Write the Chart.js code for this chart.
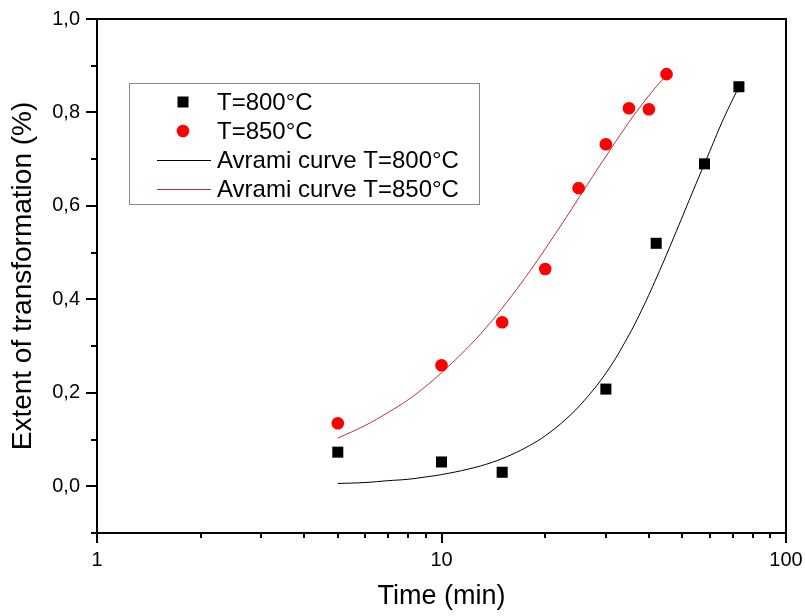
<!DOCTYPE html>
<html>
<head>
<meta charset="utf-8">
<script src="https://cdn.jsdelivr.net/npm/chart.js@4/dist/chart.umd.min.js"></script>
<style>
html,body{margin:0;padding:0;background:#fff;}
#wrap{width:805px;height:616px;}
</style>
</head>
<body>
<div id="wrap"><canvas id="c" width="805" height="616"></canvas></div>
<script>
// ---- data ----
const t800 = [5, 10, 15, 30, 42, 58, 73];
const x800 = [0.073, 0.052, 0.030, 0.208, 0.520, 0.690, 0.855];
const t850 = [5, 10, 15, 20, 25, 30, 35, 40, 45];
const x850 = [0.135, 0.259, 0.351, 0.465, 0.638, 0.732, 0.809, 0.807, 0.882];

const fitT800 = [5, 6, 7, 8, 9, 10, 12, 14, 16, 18, 20, 23, 26, 30, 34, 38, 43, 48, 54, 60, 66, 73];
const fitX800 = [0.006, 0.008, 0.012, 0.015, 0.020, 0.025, 0.037, 0.051, 0.068, 0.087, 0.108, 0.144, 0.184, 0.242, 0.307, 0.375, 0.462, 0.545, 0.636, 0.716, 0.788, 0.855];
const fitT850 = [5, 6, 7, 8, 9, 10, 12, 14, 16, 18, 20, 23, 26, 30, 34, 38, 42, 45];
const fitX850 = [0.103, 0.130, 0.158, 0.185, 0.214, 0.243, 0.299, 0.354, 0.408, 0.459, 0.508, 0.575, 0.636, 0.706, 0.766, 0.815, 0.855, 0.880];

const seriesLabels = ['T=800°C', 'T=850°C', 'Avrami curve T=800°C', 'Avrami curve T=850°C'];
const xTitle = 'Time (min)';
const yTitle = 'Extent of transformation (%)';
const xMajor = [1, 10, 100];
const xMinor = [2, 3, 4, 5, 6, 7, 8, 9, 20, 30, 40, 50, 60, 70, 80, 90];
const yMajor = [0, 0.2, 0.4, 0.6, 0.8, 1.0];
const yMinor = [-0.1, 0.1, 0.3, 0.5, 0.7, 0.9];

const pts = (xs, ys) => xs.map((x, i) => ({x: x, y: ys[i]}));
const FONT = "'Liberation Sans', Arial, sans-serif";
const noPad = s => { s.paddingTop = 0; s.paddingBottom = 0; s.paddingLeft = 0; s.paddingRight = 0; };

const frameTicks = {
  id: 'frameTicks',
  afterDraw(chart) {
    const {ctx, chartArea: a, scales} = chart;
    const xs = scales.x, ys = scales.y;
    ctx.save();
    ctx.strokeStyle = '#000';
    ctx.lineWidth = 2;
    ctx.strokeRect(a.left, a.top, a.right - a.left, a.bottom - a.top);
    ctx.beginPath();
    yMajor.forEach(v => { const p = Math.round(ys.getPixelForValue(v)); ctx.moveTo(a.left - 11, p); ctx.lineTo(a.left, p); });
    yMinor.forEach(v => { const p = Math.round(ys.getPixelForValue(v)); ctx.moveTo(a.left - 6, p); ctx.lineTo(a.left, p); });
    xMajor.forEach(v => { const p = Math.round(xs.getPixelForValue(v)); ctx.moveTo(p, a.bottom); ctx.lineTo(p, a.bottom + 10); });
    xMinor.forEach(v => { const p = Math.round(xs.getPixelForValue(v)); ctx.moveTo(p, a.bottom); ctx.lineTo(p, a.bottom + 5); });
    ctx.stroke();

    // legend box
    const L = 129, T = 83, R = 479, B = 204;
    ctx.fillStyle = '#fff';
    ctx.fillRect(L, T, R - L, B - T);
    ctx.strokeStyle = '#8a8a8a';
    ctx.lineWidth = 1;
    ctx.strokeRect(L + 0.5, T + 0.5, R - L, B - T);
    const rows = [102, 131, 160, 189];
    const ds = chart.data.datasets;
    ctx.font = '24px ' + FONT;
    ctx.textBaseline = 'middle';
    ctx.textAlign = 'left';
    rows.forEach((y, i) => {
      const d = ds[i];
      if (i === 0) {
        ctx.fillStyle = d.backgroundColor;
        ctx.fillRect(183 - 5.5, y - 5.5, 11, 11);
      } else if (i === 1) {
        ctx.fillStyle = d.backgroundColor;
        ctx.beginPath(); ctx.arc(183, y, 6.3, 0, Math.PI * 2); ctx.fill();
      } else {
        ctx.strokeStyle = d.borderColor;
        ctx.lineWidth = 1;
        ctx.beginPath(); ctx.moveTo(157, y + 0.5); ctx.lineTo(211, y + 0.5); ctx.stroke();
      }
      ctx.fillStyle = '#000';
      ctx.fillText(d.label, 217, y + 1);
    });
    ctx.restore();
  }
};

new Chart(document.getElementById('c'), {
  type: 'scatter',
  data: {
    datasets: [
      {label: seriesLabels[0], data: pts(t800, x800), pointStyle: 'rect', pointRadius: 7.8, pointHoverRadius: 7.8,
       backgroundColor: '#000', borderColor: '#000', borderWidth: 0, order: 0},
      {label: seriesLabels[1], data: pts(t850, x850), pointStyle: 'circle', pointRadius: 6.3, pointHoverRadius: 6.3,
       backgroundColor: '#ff0000', borderColor: '#ff0000', borderWidth: 0, order: 0},
      {label: seriesLabels[2], data: pts(fitT800, fitX800), showLine: true, pointRadius: 0, borderColor: '#000',
       borderWidth: 1, tension: 0.4, fill: false, order: 1},
      {label: seriesLabels[3], data: pts(fitT850, fitX850), showLine: true, pointRadius: 0, borderColor: '#b83232',
       borderWidth: 1, tension: 0.4, fill: false, order: 1}
    ]
  },
  options: {
    responsive: false,
    animation: false,
    events: [],
    layout: {padding: {top: 19, right: 19, left: 0, bottom: 0}},
    plugins: {legend: {display: false}, tooltip: {enabled: false}},
    scales: {
      x: {
        type: 'logarithmic', min: 1, max: 100,
        afterBuildTicks: s => { s.ticks = xMajor.map(v => ({value: v})); },
        afterFit: s => { s.height = 83; noPad(s); },
        grid: {display: false, drawTicks: false},
        border: {display: false},
        ticks: {color: '#000', font: {family: FONT, size: 20}, padding: 15, maxRotation: 0, autoSkip: false,
                callback: v => String(v)},
        title: {display: true, text: xTitle, color: '#000', font: {family: FONT, size: 27}, padding: {top: 0, bottom: 3}}
      },
      y: {
        type: 'linear', min: -0.1, max: 1.0,
        afterBuildTicks: s => { s.ticks = yMajor.map(v => ({value: v})); },
        afterFit: s => { s.width = 97; noPad(s); },
        grid: {display: false, drawTicks: false},
        border: {display: false},
        ticks: {color: '#000', font: {family: FONT, size: 20}, padding: 17,
                callback: v => Number(v).toFixed(1).replace('.', ',')},
        title: {display: true, text: yTitle, color: '#000', font: {family: FONT, size: 28}, padding: {top: 6, bottom: 0}}
      }
    }
  },
  plugins: [frameTicks]
});
</script>
</body>
</html>
